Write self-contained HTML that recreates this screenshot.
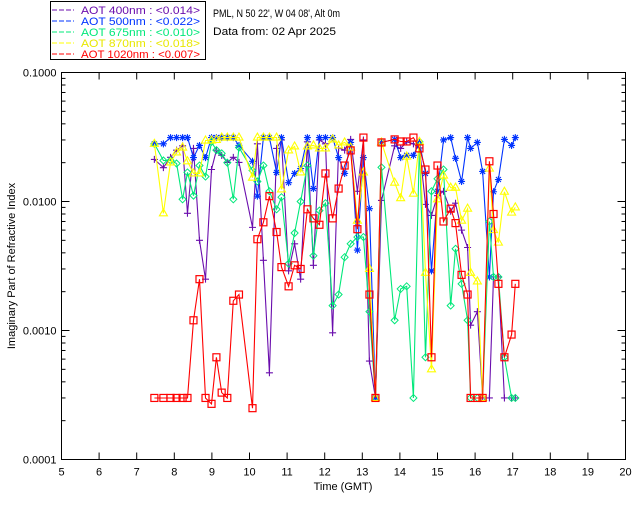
<!DOCTYPE html>
<html><head><meta charset="utf-8">
<style>
html,body{margin:0;padding:0;background:#fff;}
svg{display:block;font-family:"Liberation Sans","DejaVu Sans",sans-serif;}
</style></head>
<body>
<svg id="chart" width="640" height="512" viewBox="0 0 640 512" xmlns="http://www.w3.org/2000/svg">
<rect x="0" y="0" width="640" height="512" fill="#fff"/>
<g>
<rect x="50.5" y="1.5" width="155" height="58" fill="#fff" stroke="#000"/>
<g font-size="11" xml:space="preserve">
<line x1="52" y1="10" x2="74" y2="10" stroke="#6a0dad" stroke-dasharray="5,2"/>
<text x="81" y="14" fill="#6a0dad" textLength="119" lengthAdjust="spacingAndGlyphs">AOT  400nm : &lt;0.014&gt;</text>
<line x1="52" y1="21" x2="74" y2="21" stroke="#0033ff" stroke-dasharray="5,2"/>
<text x="81" y="25" fill="#0033ff" textLength="119" lengthAdjust="spacingAndGlyphs">AOT  500nm : &lt;0.022&gt;</text>
<line x1="52" y1="32" x2="74" y2="32" stroke="#00e87a" stroke-dasharray="5,2"/>
<text x="81" y="36" fill="#00e87a" textLength="119" lengthAdjust="spacingAndGlyphs">AOT  675nm : &lt;0.010&gt;</text>
<line x1="52" y1="43" x2="74" y2="43" stroke="#ffff00" stroke-dasharray="5,2"/>
<text x="81" y="47" fill="#e8e800" textLength="119" lengthAdjust="spacingAndGlyphs">AOT  870nm : &lt;0.018&gt;</text>
<line x1="52" y1="54" x2="74" y2="54" stroke="#ff0000" stroke-dasharray="5,2"/>
<text x="81" y="58" fill="#ff0000" textLength="119" lengthAdjust="spacingAndGlyphs">AOT 1020nm : &lt;0.007&gt;</text>
</g>
</g>
<text x="213" y="17" font-size="11" textLength="127" lengthAdjust="spacingAndGlyphs">PML, N 50 22', W 04 08', Alt 0m</text>
<text x="213" y="35" font-size="11" textLength="123" lengthAdjust="spacingAndGlyphs">Data from: 02 Apr 2025</text>
<rect x="61.5" y="72.5" width="564" height="387" fill="none" stroke="#000"/>
<g id="axes"></g>
<g id="series"></g>
<text x="343" y="490" font-size="11" text-anchor="middle">Time (GMT)</text>
<text transform="translate(15,266) rotate(-90)" font-size="11" text-anchor="middle">Imaginary Part of Refractive Index</text>
</svg>
<script>
const times = [7.47,7.71,7.90,8.06,8.22,8.35,8.51,8.67,8.83,8.99,9.12,9.26,9.41,9.57,9.72,
10.08,10.21,10.37,10.53,10.72,10.85,11.04,11.20,11.36,11.54,11.70,11.86,12.02,12.21,12.37,12.53,12.69,12.87,13.03,13.19,13.35,13.51,
13.86,14.02,14.18,14.36,14.52,14.68,14.84,15.00,15.16,15.35,15.48,15.64,15.80,15.88,16.06,16.20,16.38,16.49,16.62,16.78,16.97,17.07];
const aot400 = [.0212,.0183,.022,.025,.027,.0081,.0258,.005,.0025,.0177,.025,.0228,.0201,.022,.0201,
.0063,.028,.0035,.00047,.0258,.030,.0029,.0047,.0025,.029,.0032,.03,.028,.00096,.026,.025,.0303,.012,.03,.00058,.0003,.0102,
.027,.0258,.029,.028,.026,.0095,.0078,.0111,.012,.0084,.0097,.006,.0044,.0011,.0014,.0003,.0003,.0026,.0026,.0003,.0003,.0003];
const aot500 = [.028,.028,.0313,.0313,.0313,.0313,.0219,.0272,.0219,.0313,.0313,.0313,.0313,.0313,.0272,
.0205,.011,.0313,.0313,.0168,.0313,.014,.0165,.018,.0313,.0126,.0313,.0313,.0313,.0219,.0165,.0287,.0042,.0219,.0088,.0003,.0287,
.0303,.0219,.0228,.0228,.0287,.0165,.0029,.012,.0300,.0313,.0216,.0143,.0313,.0258,.0287,.0171,.0026,.0119,.0148,.0303,.0272,.0313];
const aot675 = [.028,.0208,.0208,.0197,.0104,.0168,.0111,.019,.0156,.029,.025,.0236,.02,.0104,.0262,
.0174,.0143,.019,.012,.0087,.0108,.0033,.0057,.010,.019,.0038,.0085,.0097,.00156,.0019,.0037,.0047,.0053,.0053,.0014,.0003,.0184,
.0012,.0021,.0022,.0003,.029,.00062,.012,.015,.0177,.00156,.0043,.0023,.0012,.0003,.0003,.0003,.007,.0026,.0026,.00062,.0003,.0003];
const aot870 = [.028,.0081,.0201,.024,.0262,.0205,.0165,.0165,.0297,.0297,.030,.0313,.0313,.0313,.0313,
.0153,.0313,.0313,.0313,.0313,.0124,.0249,.0267,.0168,.0267,.0272,.0258,.0258,.0303,.0272,.0287,.0262,.0071,.0168,.003,.0003,.0287,
.014,.0106,.0223,.0115,.029,.0028,.0005,.0104,.0159,.0128,.0128,.0071,.0088,.0028,.0024,.0003,.018,.006,.0048,.0119,.0082,.009];
const aot1020 = [.0003,.0003,.0003,.0003,.0003,.0003,.0012,.0025,.0003,.00027,.00062,.00033,.0003,.0017,.0019,
.00025,.0051,.0069,.011,.0058,.0031,.0022,.0032,.003,.0087,.0074,.0066,.0165,.0074,.0126,.019,.0249,.0061,.0313,.0019,.0003,.0287,
.0303,.0292,.0292,.0313,.0258,.0177,.00062,.019,.007,.0088,.0068,.0027,.0019,.0003,.0003,.0003,.0205,.008,.0023,.00062,.00093,.0023];
const xTicks = [5,6,7,8,9,10,11,12,13,14,15,16,17,18,19,20];
const yTicks = [0.1,0.01,0.001,0.0001];
const yTickLabels = ["0.1000","0.0100","0.0010","0.0001"];

const NS="http://www.w3.org/2000/svg";
const L=61.5,R=625.5,T=72.5,B=459.5;
function xs(t){return L+(t-5)/15*(R-L);}
function ys(v){return T+(-1-Math.log10(v))/3*(B-T);}
function mk(tag,attrs,parent){const e=document.createElementNS(NS,tag);for(const k in attrs)e.setAttribute(k,attrs[k]);parent.appendChild(e);return e;}
const ax=document.getElementById('axes');
xTicks.forEach(t=>{
  const x=xs(t);
  const l=mk('line',{x1:x,y1:B,x2:x,y2:B-7,stroke:'#000'},ax);
  
  
  const l2=mk('line',{x1:x,y1:T,x2:x,y2:T+7,stroke:'#000'},ax);
  
  
  const tx=mk('text',{x:x,y:B+16,'font-size':11,'text-anchor':'middle'},ax);
  tx.textContent=String(t);
  
  
});
yTicks.forEach((v,i)=>{
  const y=ys(v);
  const l=mk('line',{x1:L,y1:y,x2:L+8,y2:y,stroke:'#000'},ax);
  
  
  const l2=mk('line',{x1:R,y1:y,x2:R-8,y2:y,stroke:'#000'},ax);
  
  
  const tx=mk('text',{x:L-5,y:y+4,'font-size':11,'text-anchor':'end'},ax);
  tx.textContent=yTickLabels[i];
  
  
  if(i<yTicks.length-1){
    for(let m=2;m<10;m++){
      const yy=ys(v/10*m);
      const ml=mk('line',{x1:L,y1:yy,x2:L+4,y2:yy,stroke:'#000'},ax);
      
      
      const mr=mk('line',{x1:R,y1:yy,x2:R-4,y2:yy,stroke:'#000'},ax);
      
      
    }
  }
});
const sg=document.getElementById('series');
const series=[
 {name:'aot-400',vals:aot400,color:'#6a0dad',mark:'plus'},
 {name:'aot-500',vals:aot500,color:'#0033ff',mark:'star'},
 {name:'aot-675',vals:aot675,color:'#00e87a',mark:'diamond'},
 {name:'aot-870',vals:aot870,color:'#ffff00',mark:'tri'},
 {name:'aot-1020',vals:aot1020,color:'#ff0000',mark:'square'}
];
series.forEach(s=>{
  const g=mk('g',{},sg);
  
  
  let d='';
  times.forEach((t,i)=>{const v=s.vals[i];if(v==null)return;d+=(d?'L':'M')+xs(t).toFixed(1)+','+ys(v).toFixed(1);});
  const p=mk('path',{d:d,fill:'none',stroke:s.color,'stroke-width':1.1},g);
  
  
  times.forEach((t,i)=>{
    const v=s.vals[i];if(v==null)return;
    const x=xs(t),y=ys(v);let e;
    if(s.mark==='plus') e=mk('path',{d:`M${x-3.5},${y}H${x+3.5}M${x},${y-3.5}V${y+3.5}`,stroke:s.color,fill:'none','stroke-width':1.1},g);
    else if(s.mark==='star') e=mk('path',{d:`M${x-3.5},${y}H${x+3.5}M${x},${y-3.5}V${y+3.5}M${x-2.5},${y-2.5}L${x+2.5},${y+2.5}M${x-2.5},${y+2.5}L${x+2.5},${y-2.5}`,stroke:s.color,fill:'none','stroke-width':1.1},g);
    else if(s.mark==='diamond') e=mk('path',{d:`M${x},${y-3.5}L${x+3.5},${y}L${x},${y+3.5}L${x-3.5},${y}Z`,stroke:s.color,fill:'none'},g);
    else if(s.mark==='tri') e=mk('path',{d:`M${x},${y-4.5}L${x+4},${y+2.5}L${x-4},${y+2.5}Z`,stroke:s.color,fill:'none','stroke-width':1.1},g);
    else e=mk('rect',{x:x-3.5,y:y-3.5,width:7,height:7,stroke:s.color,fill:'none','stroke-width':1.2},g);
    
    
  });
});
</script>
</body></html>
